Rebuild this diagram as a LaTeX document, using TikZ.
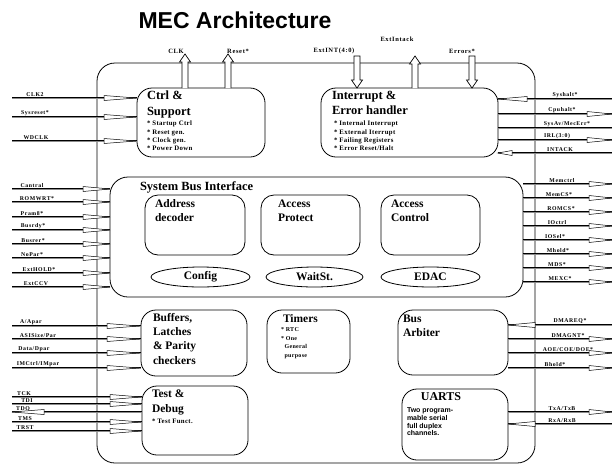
\documentclass[tikz,border=0pt]{standalone}
\usepackage{fontspec}
\setmainfont{Liberation Serif}
\newfontfamily\titlefont{Liberation Sans}
\newfontfamily\labfont[LetterSpace=10]{Liberation Serif}
\newfontfamily\smallfont[LetterSpace=5]{Liberation Serif}
\newfontfamily\uartfont{Liberation Sans}
\usetikzlibrary{shapes.geometric,calc}

\tikzset{
  every node/.style={inner sep=0pt, outer sep=0pt},
  box/.style={draw, line width=0.8pt, rounded corners=#1, anchor=north west, inner sep=0pt},
  box/.default=15pt,
  ell/.style={draw, ellipse, line width=0.8pt, inner sep=0pt, font=\bfseries\fontsize{11.5}{13}\selectfont},
  hd/.style={font=\bfseries\fontsize{12.5}{15.5}\selectfont, align=left, anchor=north west},
  hds/.style={font=\bfseries\fontsize{11.5}{13.5}\selectfont, align=left, anchor=north west},
  bul/.style={font=\smallfont\bfseries\fontsize{6.8}{8.3}\selectfont, align=left, anchor=north west},
  lab/.style={font=\labfont\bfseries\fontsize{5.8}{6}\selectfont, anchor=south},
  toplab/.style={font=\labfont\bfseries\fontsize{6.5}{7}\selectfont, anchor=south},
  sigg/.style={line width=1.5pt, black!45, transform canvas={yshift=-0.5pt}},
  sigb/.style={line width=0.6pt, black, transform canvas={yshift=0.6pt}},
  wdg/.style={draw, fill=white, line width=0.5pt},
  blk/.style={draw, fill=white, line width=0.7pt, line join=miter},
}

% left-side signal: name, y, node, label, label x
\newcommand\sigl[5]{%
  \coordinate (#1) at (12,#2);
  \draw[sigg] (#1) -- (#1 -| #3.west);
  \draw[sigb] (#1) -- (#1 -| #3.west);
  \node[lab] (#1l) at (#5,#2-1.6) {#4};}
% right-side signal
\newcommand\sigr[5]{%
  \coordinate (#1) at (612,#2);
  \draw[sigg] (#3.east |- #1) -- (#1);
  \draw[sigb] (#3.east |- #1) -- (#1);
  \node[lab] (#1l) at (#5,#2-1.6) {#4};}
% wedge: tip x, base x, y
\newcommand\wedgeat[3]{\draw[wdg] (#1,#3) -- (#2,#3-2.5) -- (#2,#3+2.5) -- cycle;}
% block arrows: x, base y, tip y
\newcommand\blkup[3]{\draw[blk] (#1-3,#2) -- (#1-3,#3+8) -- (#1-5.5,#3+8) -- (#1,#3) -- (#1+5.5,#3+8) -- (#1+3,#3+8) -- (#1+3,#2);}
\newcommand\blkdown[3]{\draw[blk] (#1-3,#2) -- (#1-3,#3-8) -- (#1-5.5,#3-8) -- (#1,#3) -- (#1+5.5,#3-8) -- (#1+3,#3-8) -- (#1+3,#2) -- cycle;}

\begin{document}
\begin{tikzpicture}[x=1pt,y=-1pt]
\useasboundingbox (0,0) rectangle (612,464);

\node[font=\titlefont\bfseries\fontsize{23}{26}\selectfont] (title) at (235,20) {MEC Architecture};

% chip outline
\node[box=18pt, minimum width=438pt, minimum height=400pt] (chip) at (97,63) {};

% boxes
\node[box, minimum width=128pt, minimum height=69pt] (ctrl) at (137,88) {};
\node[box, minimum width=177pt, minimum height=69pt] (intr) at (321,88) {};
\node[box=18pt, minimum width=413pt, minimum height=120pt] (sbi) at (110,177) {};
\node[box=13pt, minimum width=100pt, minimum height=60pt] (addr) at (145,195) {};
\node[box=13pt, minimum width=99pt, minimum height=60pt] (aprot) at (261,195) {};
\node[box=13pt, minimum width=99pt, minimum height=60pt] (actl) at (381,195) {};
\node[ell, minimum width=99pt, minimum height=20pt] (config) at (200.5,277) {Config};
\node[ell, minimum width=97pt, minimum height=20pt] (waitst) at (314.5,277) {WaitSt.};
\node[ell, minimum width=99pt, minimum height=20pt] (edac) at (430.5,277) {EDAC};
\node[box, minimum width=106pt, minimum height=66pt] (buf) at (141,310) {};
\node[box, minimum width=83pt, minimum height=63pt] (timers) at (267,310) {};
\node[box, minimum width=110pt, minimum height=65pt] (arb) at (398,310) {};
\node[box, minimum width=106pt, minimum height=69pt] (test) at (142,386) {};
\node[box, minimum width=106pt, minimum height=71pt] (uarts) at (402,389) {};

% box texts
\node[hd] (ctrlt) at (147,91) {Ctrl \&\\Support};
\node[bul] (ctrlb) at (147,121) {* Startup Ctrl\\* Reset gen.\\* Clock gen.\\* Power Down};
\node[hd] (intrt) at (332,91) {Interrupt \&\\Error handler};
\node[bul] (intrb) at (334,121) {* Internal Interrupt\\* External Iterrupt\\* Failing Registers\\* Error Reset/Halt};
\node[hd] (sbit) at (140,182) {System Bus Interface};
\node[hds] (addrt) at (155,200) {Address\\decoder};
\node[hds] (aprott) at (278,200) {Access\\Protect};
\node[hds] (actlt) at (391,200) {Access\\Control};
\node[hds, font=\bfseries\fontsize{11.5}{14.3}\selectfont] (buft) at (153,313) {Buffers,\\Latches\\\& Parity\\checkers};
\node[hds] (timerst) at (283,315) {Timers};
\node[bul, font=\smallfont\bfseries\fontsize{6}{8.4}\selectfont] (timersb) at (281,328) {* RTC\\* One\\\ \ General\\\ \ purpose};
\node[hds] (arbt) at (403,315) {Bus\\Arbiter};
\node[hds, font=\bfseries\fontsize{11.5}{14.5}\selectfont] (testt) at (152,390) {Test \&\\Debug};
\node[bul] (testb) at (152,419) {* Test Funct.};
\node[hds, anchor=north, font=\bfseries\fontsize{12}{14}\selectfont] (uartst) at (441,393) {UARTS};
\node[font=\uartfont\bfseries\fontsize{7}{7.7}\selectfont, align=left, anchor=north west] (uartsb) at (407,408) {Two program-\\mable serial\\full duplex\\channels.};

% top block arrows
\blkup{185}{88}{54}
\blkup{228}{88}{54}
\blkdown{357}{56}{88}
\blkup{415}{88}{56}
\blkdown{472}{56}{88}
\node[toplab] (clkl) at (176,54) {CLK};
\node[toplab] (resetl) at (238,54) {Reset*};
\node[toplab] (extintl) at (334,54) {ExtINT(4:0)};
\node[toplab] (extackl) at (397,42) {ExtIntack};
\node[toplab] (errl) at (462,54) {Errors*};

% left signals
\sigl{clkb}{98}{ctrl}{CLK2}{35}
\sigl{sysr}{117}{ctrl}{Sysreset*}{35}
\sigl{wdclk}{141}{ctrl}{WDCLK}{36}
\wedgeat{136}{104}{98}
\wedgeat{136}{104}{117}
\wedgeat{136}{104}{141}

\sigl{cntrl}{189}{sbi}{Cantral}{32}
\sigl{romwrt}{202}{sbi}{ROMWRT*}{37}
\sigl{pram}{217}{sbi}{Pram8*}{32}
\sigl{busrdy}{230}{sbi}{Busrdy*}{33}
\sigl{buserr}{244}{sbi}{Busrer*}{33}
\sigl{nopar}{258}{sbi}{NoPar*}{32}
\sigl{exthold}{273}{sbi}{ExtHOLD*}{39}
\sigl{extccv}{287}{sbi}{ExtCCV}{36}
\foreach \yy in {189,202,217,230,244,258,273,287}{\wedgeat{110}{83}{\yy}}

\sigl{aapar}{326}{buf}{A/Apar}{31}
\sigl{asize}{339}{buf}{ASISize/Par}{38}
\sigl{ddpar}{353}{buf}{Data/Dpar}{34}
\sigl{imctrl}{368}{buf}{IMCtrl/IMpar}{38}
\foreach \yy in {326,339,353,368}{\wedgeat{139}{107}{\yy}}

\sigl{tck}{397}{test}{TCK}{24}
\sigl{tdi}{404}{test}{TDI}{27}
\sigl{tdo}{412}{test}{TDO}{23}
\sigl{tms}{422}{test}{TMS}{25}
\sigl{trst}{431}{test}{TRST}{25}
\foreach \yy in {397,404,422,431}{\wedgeat{141}{110}{\yy}}
\wedgeat{12}{44}{412}

% right signals
\sigr{syshalt}{99}{intr}{Syshalt*}{565}
\sigr{cpuhalt}{114}{intr}{Cpuhalt*}{562}
\sigr{sysav}{128}{intr}{SysAv/MecErr*}{567}
\sigr{irl}{140}{intr}{IRL(3:0)}{557}
\sigr{intack}{153}{intr}{INTACK}{560}
\wedgeat{498}{527}{99}
\wedgeat{612}{587}{114}
\wedgeat{612}{587}{140}
\wedgeat{498}{512}{153}

\sigr{memctrl}{184}{sbi}{Memctrl}{562}
\sigr{memcs}{198}{sbi}{MemCS*}{559}
\sigr{romcs}{212}{sbi}{ROMCS*}{561}
\sigr{ioctrl}{226}{sbi}{IOctrl}{557}
\sigr{iosel}{240}{sbi}{IOSel*}{555}
\sigr{mhold}{254}{sbi}{Mhold*}{558}
\sigr{mds}{268}{sbi}{MDS*}{557}
\sigr{mexc}{282}{sbi}{MEXC*}{560}
\foreach \yy in {184,198,212,226,240,254,268,282}{\wedgeat{612}{589}{\yy}}

\sigr{dmareq}{325}{arb}{DMAREQ*}{570}
\sigr{dmagnt}{339}{arb}{DMAGNT*}{568}
\sigr{aoe}{353}{arb}{AOE/COE/DOE*}{568}
\sigr{bhold}{368}{arb}{Bhold*}{555}
\wedgeat{508}{535}{325}
\foreach \yy in {339,353,368}{\wedgeat{612}{589}{\yy}}

\sigr{txab}{412}{uarts}{TxA/TxB}{562}
\sigr{rxab}{424}{uarts}{RxA/RxB}{562}
\wedgeat{612}{589}{412}
\wedgeat{508}{535}{424}
\end{tikzpicture}
\end{document}
